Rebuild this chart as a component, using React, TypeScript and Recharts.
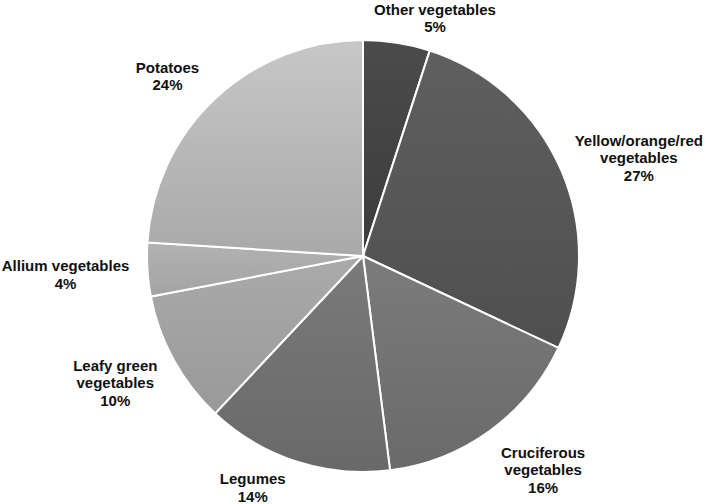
import * as React from 'react';
import { Cell, Pie, PieChart } from 'recharts';

// Share of vegetable intake, by subgroup (clockwise from 12 o'clock)
const categories = [
    'Other vegetables',
    'Yellow/orange/red\nvegetables',
    'Cruciferous\nvegetables',
    'Legumes',
    'Leafy green\nvegetables',
    'Allium vegetables',
    'Potatoes',
];
const shares = [5, 27, 16, 14, 10, 4, 24];

// gradient top / bottom greys per slice
const topColors = ['#4b4b4b', '#5f5f5f', '#7b7b7b', '#7a7a7a', '#aaaaaa', '#b2b2b2', '#c7c7c7'];
const bottomColors = ['#3c3c3c', '#4f4f4f', '#6a6a6a', '#696969', '#999999', '#a3a3a3', '#a9a9a9'];

// label placement tweaks: extra radius beyond the pie and clockwise angle shift
const labelDr = [33, 77, 63, 40, 62, 82, 50];
const labelDa = [7.8, 3.7, -4.2, 7.5, 1.8, 0.1, -4.1];

const data = categories.map((name, i) => ({ name, value: shares[i] }));

const RAD = Math.PI / 180;

const renderLabel = (props: any) => {
    const { cx, cy, midAngle, outerRadius, index, name, value } = props;
    const angle = (midAngle - labelDa[index]) * RAD;
    const r = outerRadius + labelDr[index];
    const x = cx + r * Math.cos(-angle);
    const y = cy + r * Math.sin(-angle);
    const lines = [...String(name).split('\n'), `${value}%`];
    const lh = 17.5;
    const y0 = y - ((lines.length - 1) * lh) / 2;
    return (
        <text
            x={x}
            y={y0}
            textAnchor="middle"
            dominantBaseline="central"
            fontFamily="'Liberation Sans', Arial, sans-serif"
            fontWeight="bold"
            fontSize={15}
            fill="#111"
        >
            {lines.map((l, k) => (
                <tspan key={k} x={x} dy={k === 0 ? 0 : lh}>{l}</tspan>
            ))}
        </text>
    );
};

export default function App() {
    return (
        <div style={{ position: 'absolute', left: 0, top: 0, width: 709, height: 504, background: '#fff' }}>
            <PieChart width={709} height={504} margin={{ top: 0, right: 0, bottom: 0, left: 0 }}>
                <defs>
                    {topColors.map((c, i) => (
                        <linearGradient key={i} id={`slice${i}`} x1="0" y1="0" x2="0" y2="1">
                            <stop offset="0%" stopColor={c}/>
                            <stop offset="100%" stopColor={bottomColors[i]}/>
                        </linearGradient>
                    ))}
                </defs>
                <Pie
                    data={data}
                    dataKey="value"
                    nameKey="name"
                    cx={363}
                    cy={256}
                    outerRadius={216}
                    startAngle={90}
                    endAngle={-270}
                    stroke="#ffffff"
                    strokeWidth={2}
                    label={renderLabel}
                    labelLine={false}
                    isAnimationActive={false}
                >
                    {data.map((d, i) => (
                        <Cell key={d.name} fill={`url(#slice${i})`}/>
                    ))}
                </Pie>
            </PieChart>
        </div>
    );
}
